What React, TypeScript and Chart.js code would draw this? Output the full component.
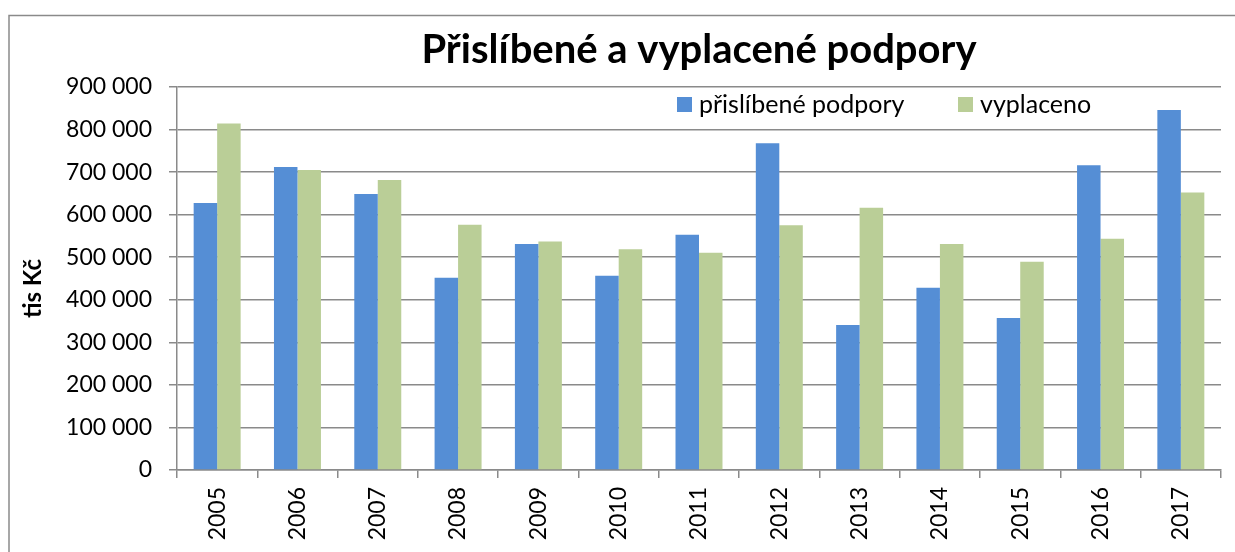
import React, { useEffect, useRef } from "react";
import { Chart, registerables } from "chart.js";

Chart.register(...registerables);

const years = ["2005", "2006", "2007", "2008", "2009", "2010", "2011", "2012", "2013", "2014", "2015", "2016", "2017"];
const prislibene = [627500, 712000, 648500, 452000, 531000, 456500, 553000, 768000, 340500, 428000, 357000, 716000, 846000];
const vyplaceno = [814000, 705000, 681500, 576500, 537000, 519000, 510500, 575000, 616500, 531000, 489500, 543500, 652000];
const seriesNames = ["přislíbené podpory", "vyplaceno"];
const titleText = "Přislíbené a vyplacené podpory";
const yAxisTitle = "tis Kč";

const FONT = "Lato, 'Open Sans', sans-serif";
const GRID = "#8a8a8a";

const fmt = (v: number) => String(v).replace(/\B(?=(\d{3})+(?!\d))/g, " ");

const framePlugin = {
  id: "frame",
  beforeDraw(chart: any) {
    const ctx = chart.ctx;
    ctx.save();
    ctx.fillStyle = "#ffffff";
    ctx.fillRect(0, 0, chart.width, chart.height);
    ctx.strokeStyle = GRID;
    ctx.lineWidth = 1.5;
    ctx.beginPath();
    ctx.moveTo(9, chart.height + 2);
    ctx.lineTo(9, 15.5);
    ctx.lineTo(chart.width + 2, 15.5);
    ctx.stroke();
    ctx.restore();
  },
  afterDraw(chart: any) {
    const ctx = chart.ctx;
    const area = chart.chartArea;
    const offsets = [500, 781];
    ctx.save();
    ctx.font = `25px ${FONT}`;
    ctx.textBaseline = "middle";
    ctx.textAlign = "left";
    chart.data.datasets.forEach((ds: any, i: number) => {
      const x = area.left + offsets[i];
      const y = 97;
      ctx.fillStyle = ds.backgroundColor;
      ctx.fillRect(x, y, 15, 15);
      ctx.fillStyle = "#000000";
      ctx.fillText(ds.label, x + 22, y + 8);
    });
    // y axis title
    ctx.translate(33, (area.top + area.bottom) / 2 + 10);
    ctx.rotate(-Math.PI / 2);
    ctx.font = `bold 24px ${FONT}`;
    ctx.textAlign = "center";
    ctx.textBaseline = "middle";
    ctx.fillStyle = "#000000";
    ctx.fillText(yAxisTitle, 0, 0);
    ctx.restore();
  },
};

export default function App() {
  const ref = useRef<HTMLCanvasElement | null>(null);
  useEffect(() => {
    if (!ref.current) return;
    const chart = new Chart(ref.current, {
      type: "bar",
      data: {
        labels: years,
        datasets: [
          {
            label: seriesNames[0],
            data: prislibene,
            backgroundColor: "#558ED5",
            categoryPercentage: 0.585,
            barPercentage: 1,
          },
          {
            label: seriesNames[1],
            data: vyplaceno,
            backgroundColor: "#BACE97",
            categoryPercentage: 0.585,
            barPercentage: 1,
          },
        ],
      },
      options: {
        responsive: false,
        animation: false,
        devicePixelRatio: 1,
        layout: { padding: { top: 16, left: 10, right: 14, bottom: 0 } },
        plugins: {
          legend: { display: false },
          tooltip: { enabled: false },
          title: {
            display: true,
            fullSize: false,
            text: titleText,
            color: "#000000",
            font: { family: FONT, size: 40, weight: "bold", lineHeight: 1.2 },
            padding: { top: 9.6, bottom: 13.4 },
          },
        },
        scales: {
          x: {
            grid: {
              display: true,
              drawOnChartArea: false,
              drawTicks: true,
              tickLength: 8,
              offset: true,
              color: GRID,
              lineWidth: 1.5,
            },
            border: { display: true, color: GRID, width: 1.5 },
            ticks: {
              color: "#000000",
              font: { family: FONT, size: 23 },
              minRotation: 90,
              maxRotation: 90,
              autoSkip: false,
              padding: 9,
            },
            afterFit: (scale: any) => {
              scale.height = 82;
            },
          },
          y: {
            min: 0,
            max: 900000,
            grid: {
              color: GRID,
              lineWidth: 1.5,
              drawTicks: true,
              tickLength: 8,
            },
            border: { display: true, color: GRID, width: 1.5 },
            ticks: {
              stepSize: 100000,
              color: "#000000",
              font: { family: FONT, size: 23 },
              padding: 17,
              callback: (v: any) => fmt(Number(v)),
            },
            afterFit: (scale: any) => {
              scale.width = 167;
            },
          },
        },
      },
      plugins: [framePlugin],
    });
    return () => chart.destroy();
  }, []);
  return (
    <div style={{ position: "fixed", left: 0, top: 0, width: 1235, height: 552, background: "#fff" }}>
      <canvas ref={ref} width={1235} height={552} style={{ display: "block" }} />
    </div>
  );
}
